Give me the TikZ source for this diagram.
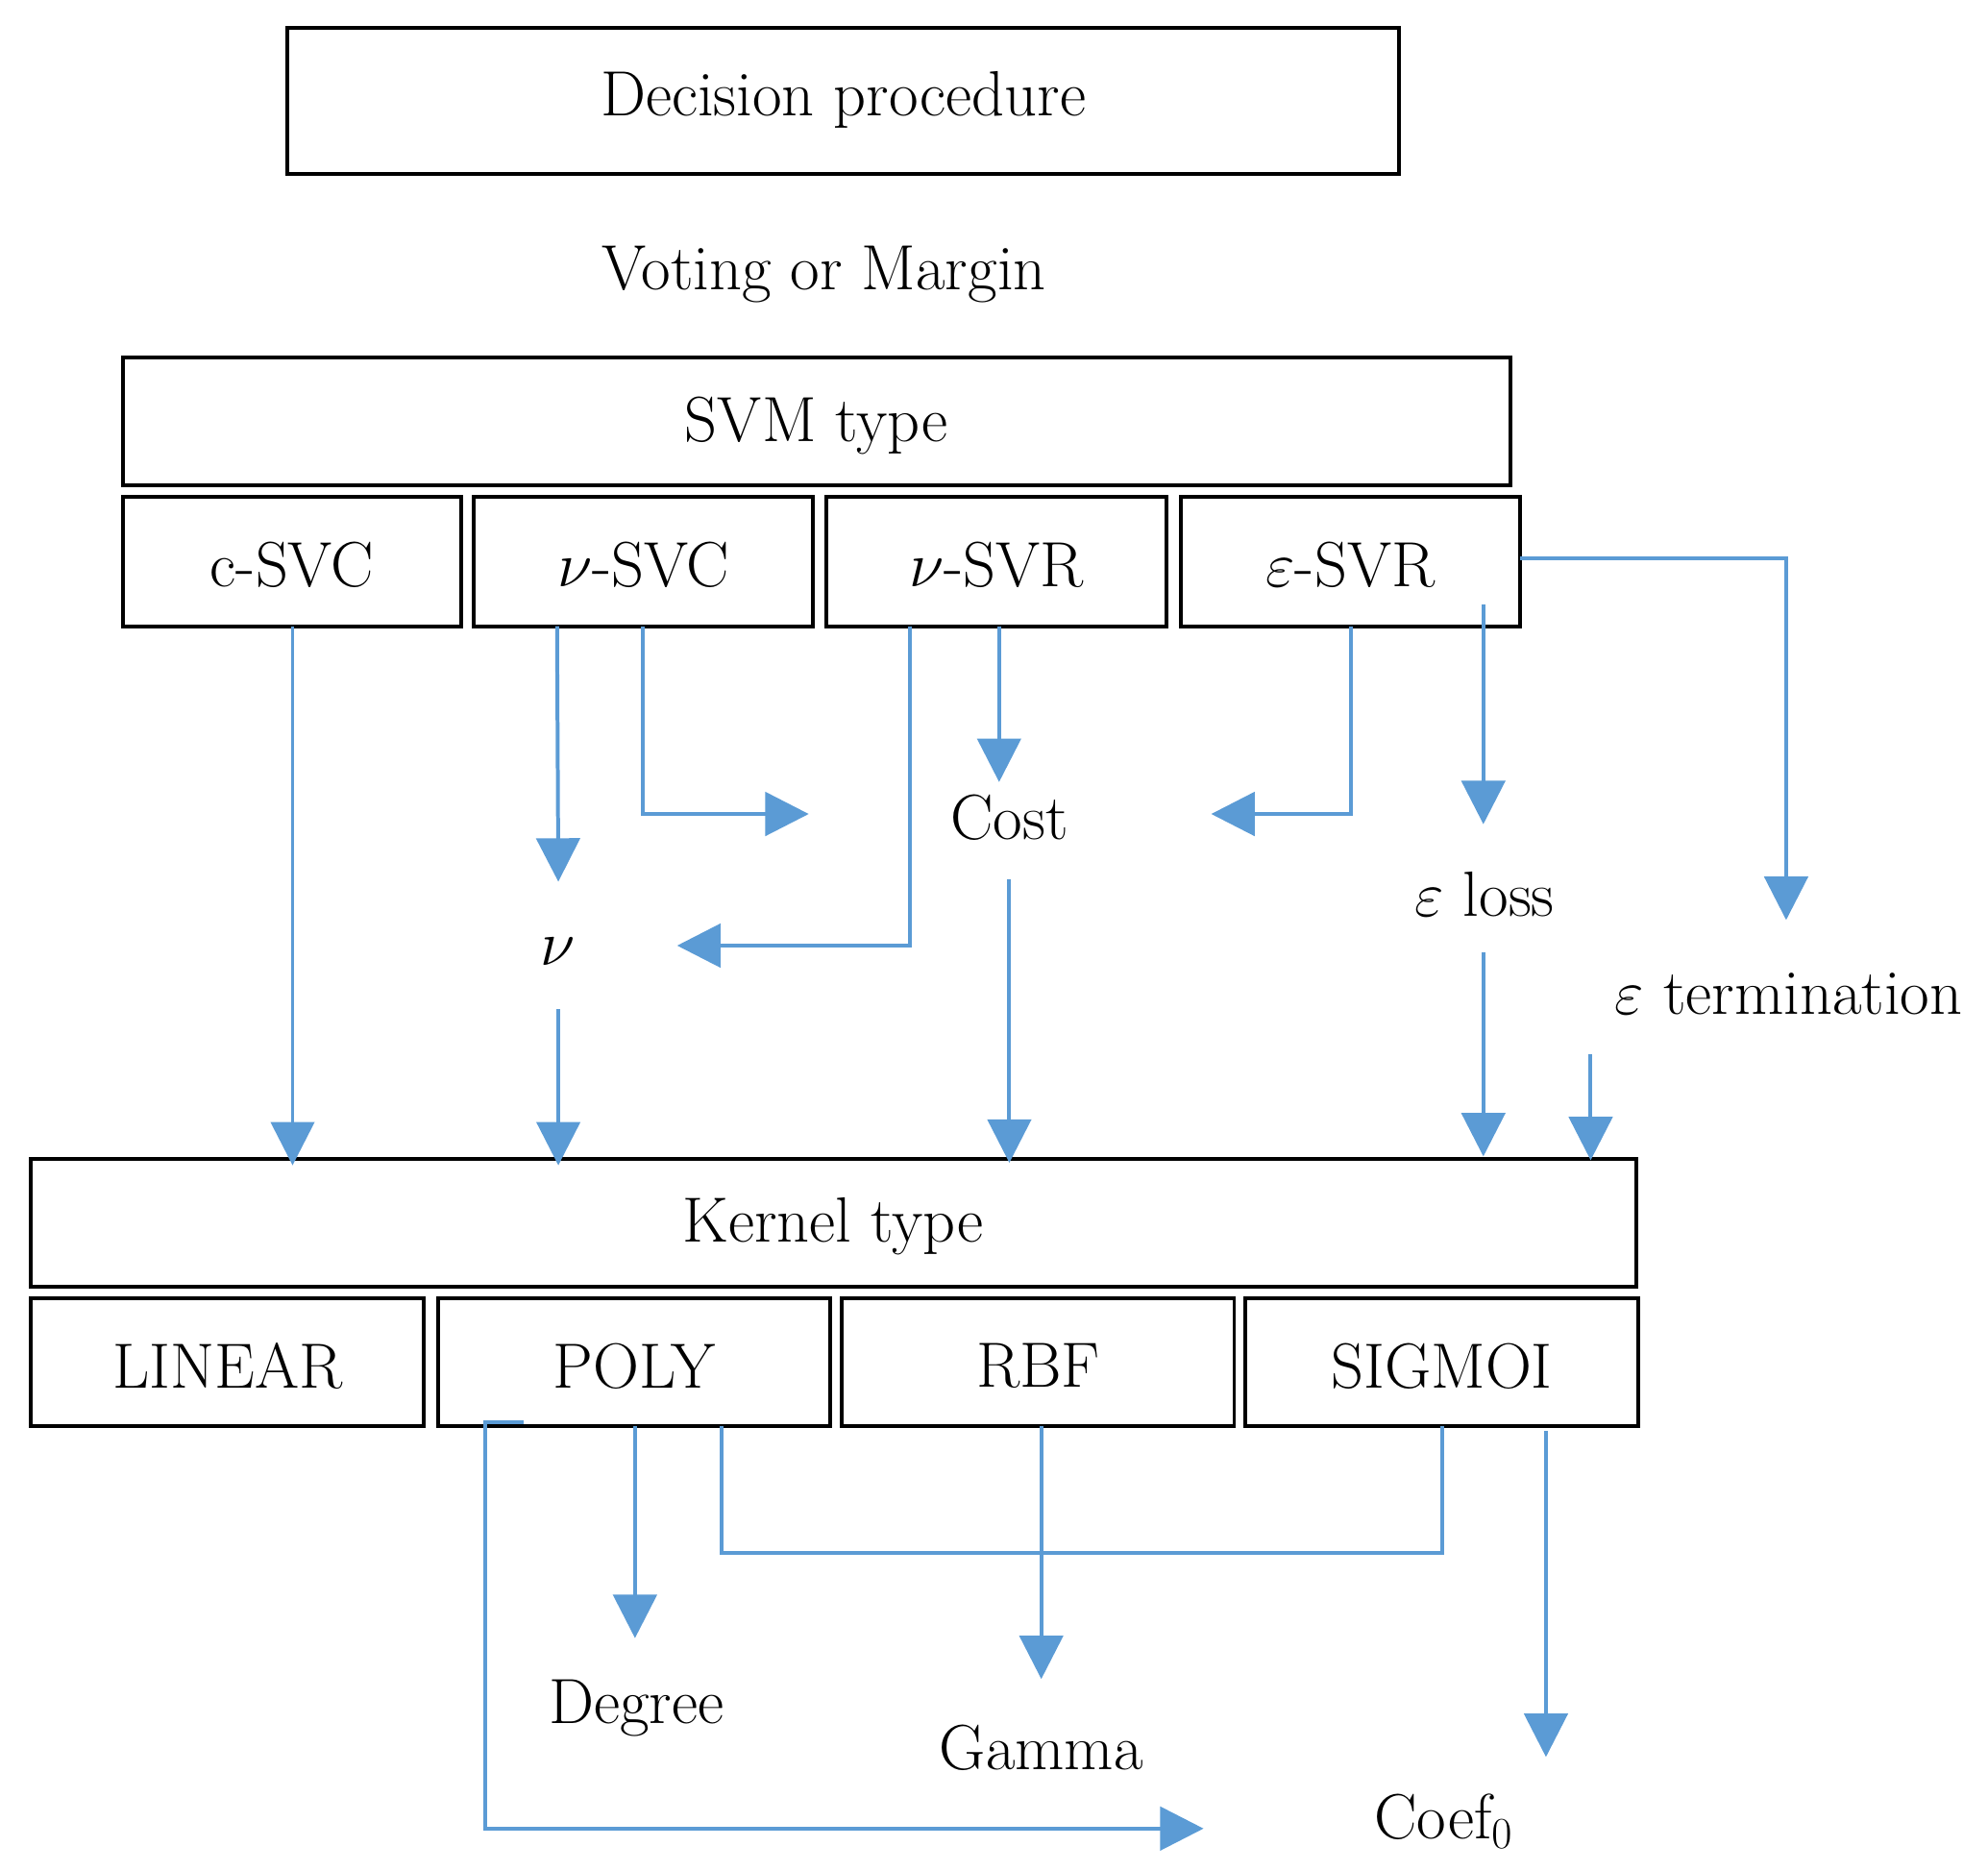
\documentclass[tikz,border=0pt]{standalone}
\usetikzlibrary{arrows.meta}
\definecolor{ab}{HTML}{5B9BD5}
\begin{document}
\begin{tikzpicture}[x=0.5pt,y=-0.5pt,
  box/.style={draw,line width=1.5pt},
  lab/.style={font=\fontsize{25}{30}\selectfont},
  ar/.style={draw=ab,line width=1.5pt,-{Triangle[width=17pt,length=17pt]}},
  ln/.style={draw=ab,line width=1.5pt}]
\useasboundingbox (0,0) rectangle (1556,1464);
\draw[box] (225,22) rectangle (1095,136);
\node[lab] (dp) at (660,78) {Decision procedure};
\node[lab] (vm) at (645,215) {Voting or Margin};
\draw[box] (96,280) rectangle (1182,380);
\node[lab] (svm) at (639,333) {SVM type};
\foreach \a/\b/\t/\n in {96/361/c-SVC/s1,371/636/$\nu$-SVC/s2,647/913/$\nu$-SVR/s3,924/1190/$\varepsilon$-SVR/s4}{
  \draw[box] (\a,389) rectangle (\b,490);
  \node[lab] (\n) at ({(\a+\b)/2},442) {\t};}
\draw[box] (24,907) rectangle (1281,1007);
\node[lab] (ker) at (652,960) {Kernel type};
\foreach \a/\b/\t/\n in {24/332/LINEAR/k1,343/650/POLY/k2,659/966/RBF/k3,975/1282/SIGMOI/k4}{
  \draw[box] (\a,1016) rectangle (\b,1116);
  \node[lab] (\n) at ({(\a+\b)/2},1069) {\t};}
\node[lab] (cost) at (790,640) {Cost};
\node[lab] (nu) at (437,745) {$\nu$};
\node[lab] (eloss) at (1162,700) {$\varepsilon$ loss};
\node[lab] (eterm) at (1400,778) {$\varepsilon$ termination};
\node[lab] (deg) at (498,1337) {Degree};
\node[lab] (gam) at (815,1368) {Gamma};
\node[lab] (coef) at (1130,1425) {Coef$_0$};
% connectors
\draw[ar] (229,490) -- (229,912);
\draw[ar] (436,490) -- (437,690);
\draw[ar] (437,790) -- (437,912);
\draw[ar] (503,490) -- (503,637) -- (633,637);
\draw[ar] (712,490) -- (712,740) -- (530,740);
\draw[ar] (782,490) -- (782,612);
\draw[ar] (1057,490) -- (1057,637) -- (948,637);
\draw[ar] (1161,473) -- (1161,645);
\draw[ar] (1190,437) -- (1398,437) -- (1398,720);
\draw[ar] (790,688) -- (790,910);
\draw[ar] (1161,745) -- (1161,905);
\draw[ar] (1245,825) -- (1245,908);
\draw[ar] (497,1116) -- (497,1282);
\draw[ln] (565,1116) -- (565,1215) -- (1129,1215) -- (1129,1116);
\draw[ar] (815,1116) -- (815,1314);
\draw[ar] (1210,1120) -- (1210,1375);
\draw[ar] (410,1113) -- (380,1113) -- (380,1431) -- (942,1431);
\end{tikzpicture}
\end{document}
